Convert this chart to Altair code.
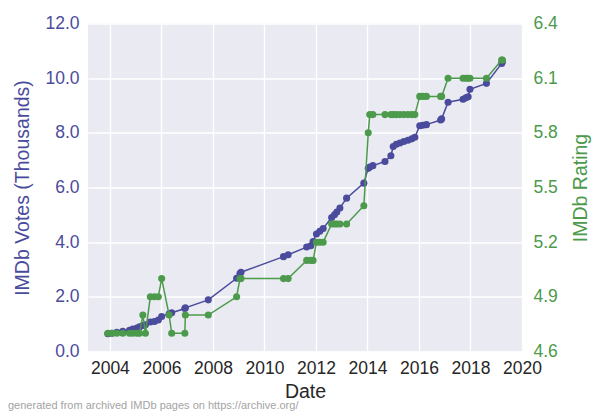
import altair as alt
import pandas as pd

# Dates (decimal years) of archived snapshots
years = [2003.92, 2004.08, 2004.27, 2004.50, 2004.76, 2004.89, 2005.05, 2005.15, 2005.28, 2005.38,
         2005.57, 2005.73, 2005.88, 2006.01, 2006.30, 2006.40, 2006.91, 2006.93, 2007.82, 2008.92,
         2009.05, 2009.09, 2010.74, 2010.92, 2011.64, 2011.80, 2011.89, 2012.02, 2012.15, 2012.28,
         2012.61, 2012.72, 2012.81, 2012.93, 2013.19, 2013.86, 2014.03, 2014.09, 2014.21, 2014.68,
         2014.91, 2015.00, 2015.12, 2015.26, 2015.41, 2015.57, 2015.72, 2015.84, 2016.03, 2016.15,
         2016.29, 2016.84, 2016.88, 2017.13, 2017.71, 2017.82, 2017.91, 2017.98, 2018.62, 2019.21,
         2019.24]

# IMDb votes (thousands)
votes = [0.65, 0.67, 0.70, 0.74, 0.78, 0.82, 0.86, 0.90, 0.95, 0.98,
         1.08, 1.10, 1.15, 1.28, 1.38, 1.42, 1.57, 1.60, 1.89, 2.68,
         2.85, 2.90, 3.47, 3.54, 3.82, 3.87, 4.02, 4.30, 4.40, 4.50,
         4.90, 5.00, 5.10, 5.25, 5.61, 6.16, 6.70, 6.75, 6.80, 6.95,
         7.16, 7.50, 7.58, 7.63, 7.68, 7.73, 7.78, 7.84, 8.26, 8.28,
         8.30, 8.47, 8.51, 9.12, 9.23, 9.28, 9.32, 9.59, 9.81, 10.54,
         10.60]

# IMDb rating
ratings = [4.7, 4.7, 4.7, 4.7, 4.7, 4.7, 4.7, 4.7, 4.8, 4.7,
           4.9, 4.9, 4.9, 5.0, 4.8, 4.7, 4.7, 4.8, 4.8, 4.9,
           5.0, 5.0, 5.0, 5.0, 5.1, 5.1, 5.1, 5.2, 5.2, 5.2,
           5.3, 5.3, 5.3, 5.3, 5.3, 5.4, 5.8, 5.9, 5.9, 5.9,
           5.9, 5.9, 5.9, 5.9, 5.9, 5.9, 5.9, 5.9, 6.0, 6.0,
           6.0, 6.0, 6.0, 6.1, 6.1, 6.1, 6.1, 6.1, 6.1, 6.2,
           6.2]

x_ticks = [2004, 2006, 2008, 2010, 2012, 2014, 2016, 2018, 2020]
vote_ticks = [0, 2, 4, 6, 8, 10, 12]
rating_ticks = [4.6, 4.9, 5.2, 5.5, 5.8, 6.1, 6.4]
footer = "generated from archived IMDb pages on https://archive.org/"

BLUE = "#4b4b9d"
GREEN = "#4c9a4c"
FONT = "Liberation Sans"

df = pd.DataFrame({"year": years, "votes": votes, "rating": ratings})

x_enc = alt.X("year:Q",
              scale=alt.Scale(domain=[2003.15, 2020.0], nice=False, zero=False),
              axis=alt.Axis(values=x_ticks, format="d", title="Date",
                            labelFlush=False, labelPadding=8, titlePadding=5,
                            labelOverlap=False))

votes_layer = alt.Chart(df).mark_line(
    color=BLUE, strokeWidth=1.5,
    point=alt.OverlayMarkDef(color=BLUE, filled=True, size=50, opacity=1)
).encode(
    x=x_enc,
    y=alt.Y("votes:Q",
            scale=alt.Scale(domain=[0, 12], nice=False),
            axis=alt.Axis(values=vote_ticks, format=".1f", orient="left",
                          title="IMDb Votes (Thousands)", titleColor=BLUE,
                          labelColor=BLUE, labelPadding=9, titlePadding=12,
                          labelFlush=False))
)

rating_layer = alt.Chart(df).mark_line(
    color=GREEN, strokeWidth=1.5,
    point=alt.OverlayMarkDef(color=GREEN, filled=True, size=50, opacity=1)
).encode(
    x=x_enc,
    y=alt.Y("rating:Q",
            scale=alt.Scale(domain=[4.6, 6.4], nice=False, zero=False),
            axis=alt.Axis(values=rating_ticks, format=".1f", orient="right",
                          title="IMDb Rating", titleColor=GREEN,
                          titleAngle=270, titleBaseline="top",
                          labelColor=GREEN, labelPadding=11, titlePadding=14,
                          grid=False, labelFlush=False))
)

footer_layer = alt.Chart(pd.DataFrame({"t": [footer]})).mark_text(
    align="left", baseline="alphabetic", fontSize=11, color="#a3a3a3", font=FONT
).encode(
    x=alt.value(-80), y=alt.value(385.5), text="t:N"
)

chart = alt.layer(votes_layer, rating_layer, footer_layer).resolve_scale(
    y="independent"
).properties(
    width=434, height=328,
    autosize=alt.AutoSizeParams(type="none"),
    padding={"left": 80, "top": 15.5, "right": 70, "bottom": 59.5},
).configure_view(
    fill="#EAEAF2", stroke=None
).configure_axis(
    domain=False, ticks=False, gridColor="white", gridWidth=1.3,
    labelFont=FONT, titleFont=FONT, labelFontSize=17.5, titleFontSize=19.5,
    titleFontWeight="normal", labelColor="#262626", titleColor="#262626"
)

chart.save("out.html", embed_options={"renderer": "svg", "actions": False})
